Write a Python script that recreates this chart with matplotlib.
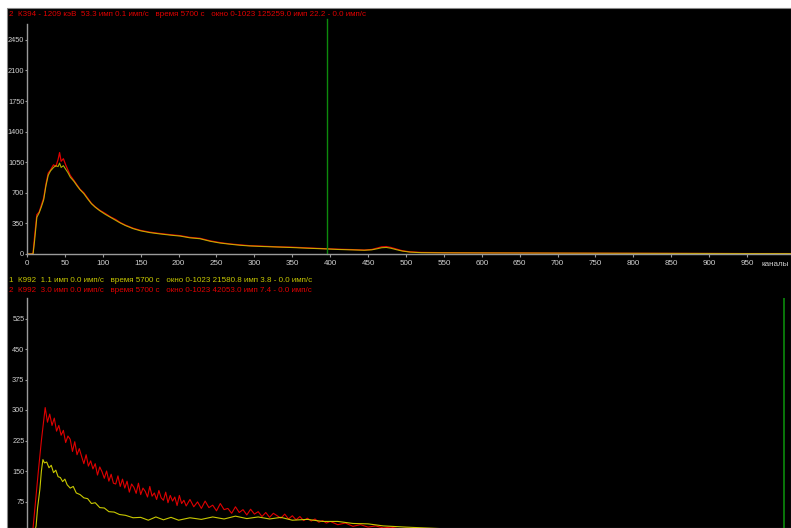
import matplotlib.pyplot as plt
from matplotlib.patches import Rectangle

# ---- данные ----
# верхний спектр: К394
top_ch = [0, 6, 8, 10, 13, 16, 19, 22, 25, 28, 31, 35, 38, 41, 43, 45, 48, 51, 54, 57, 62, 66, 70, 75, 80,
          85, 90, 96, 103, 110, 117, 123, 130, 140, 150, 162, 175, 190, 202, 215, 228, 242, 255, 268, 281,
          294, 310, 330, 350, 370, 390, 410, 430, 445, 455, 462, 468, 474, 480, 488, 495, 505, 520, 550,
          600, 650, 700, 750, 800, 850, 900, 950, 1000, 1023]
top_red = [0, 0, 10, 200, 450, 480, 560, 640, 800, 925, 960, 1020, 1000, 1080, 1160, 1060, 1090, 1020, 960,
           900, 840, 790, 740, 700, 640, 580, 540, 500, 465, 425, 395, 360, 330, 295, 270, 250, 235, 220,
           210, 190, 180, 150, 130, 115, 105, 95, 90, 82, 78, 70, 62, 55, 50, 45, 52, 68, 82, 85, 75, 55,
           38, 25, 18, 15, 13, 12, 10, 9, 8, 7, 6, 5, 5, 4]
top_yel = [0, 0, 0, 150, 420, 470, 540, 620, 780, 900, 950, 990, 1010, 1000, 1040, 990, 1010, 970, 930,
           880, 830, 780, 735, 690, 630, 575, 535, 495, 455, 420, 385, 355, 325, 290, 265, 245, 230, 215,
           205, 185, 175, 145, 125, 112, 100, 92, 86, 80, 74, 66, 60, 52, 47, 43, 48, 60, 72, 75, 66, 48,
           34, 22, 15, 13, 12, 11, 10, 9, 8, 7, 6, 5, 5, 4]

# нижний спектр: К992, серия 2 (красная)
bot_red_ch = ([0, 6, 8, 12, 15, 19, 22] + list(range(24, 211, 3)) + list(range(215, 401, 5))
              + [410, 420, 430, 440, 450, 460, 470, 480, 490, 500, 520, 540, 560, 580, 600,
                 650, 700, 750, 800, 850, 900, 950, 1000, 1023])
bot_red = [0, 0, 10, 90, 150, 225, 275,
           306, 270, 290, 262, 280, 248, 262, 238, 250, 220, 236, 228, 198, 222, 190, 205, 186, 168,
           190, 162, 175, 155, 168, 140, 160, 148, 132, 150, 125, 142, 120, 118, 138, 112, 130, 108,
           125, 98, 118, 110, 95, 120, 92, 108, 100, 86, 112, 88, 96, 80, 102, 84, 78, 98, 72, 90,
           76, 86, 65, 90, 70, 78, 64,
           80, 62, 74, 58, 76, 60, 66, 52, 70, 55, 58, 46, 62, 48, 55, 42, 56, 44, 50, 38, 48, 36, 46,
           40, 34, 44, 32, 40, 30, 38, 28, 34, 27, 32, 24, 28, 22, 26,
           18, 22, 14, 18, 12, 15, 10, 12, 8, 9, 6, 7, 4, 5, 3, 3, 2, 2, 1, 1, 1, 1, 0, 0]

# нижний спектр: К992, серия 1 (жёлтая)
bot_yel_ch = [0, 10, 12, 14, 17, 19, 21, 23, 26, 29, 32, 35, 38, 41, 44, 47, 50, 53, 57, 61, 65, 70, 75,
              80, 85, 90, 96, 102, 108, 115, 122, 130, 140, 150, 160, 170, 180, 190, 200, 215, 230, 245,
              260, 275, 290, 305, 320, 335, 350, 370, 390, 410, 430, 450, 470, 500, 550, 600, 700, 800,
              900, 1000, 1023]
bot_yel = [0, 0, 15, 60, 105, 150, 178, 170, 172, 158, 164, 146, 152, 136, 134, 124, 130, 116, 108, 112,
           96, 92, 84, 82, 70, 72, 60, 59, 50, 49, 43, 41, 35, 36, 29, 37, 30, 36, 29, 35, 31, 37, 32, 39,
           33, 37, 32, 36, 29, 31, 26, 26, 21, 20, 15, 12, 8, 5, 3, 2, 1, 0, 0]

top_xticks = list(range(0, 1000, 50))
top_yticks = [0, 350, 700, 1050, 1400, 1750, 2100, 2450]
bot_yticks = [0, 75, 150, 225, 300, 375, 450, 525]
top_marker = 396
bot_marker = 999

top_title = "2  К394 - 1209 кэВ  53.3 имп 0.1 имп/с   время 5700 с   окно 0-1023 125259.0 имп 22.2 - 0.0 имп/с"
bot_title1 = "1  К992  1.1 имп 0.0 имп/с   время 5700 с   окно 0-1023 21580.8 имп 3.8 - 0.0 имп/с"
bot_title2 = "2  К992  3.0 имп 0.0 имп/с   время 5700 с   окно 0-1023 42053.0 имп 7.4 - 0.0 имп/с"

W, H = 791, 528
RED = '#e00000'
YEL = '#c8c800'
GRN = '#0c8a0c'
FS = 5.8
FS_TICK = 5.3


def fx(px):
    return px / W


def fy(py):
    return 1 - py / H


def style_axes(ax):
    ax.patch.set_alpha(0)
    for s in ['top', 'right']:
        ax.spines[s].set_visible(False)
    for s in ['left', 'bottom']:
        ax.spines[s].set_color('#9a9a9a')
        ax.spines[s].set_linewidth(1.0)
    ax.tick_params(colors='#9a9a9a', labelcolor='#d0d0d0', labelsize=FS_TICK, length=1.6, width=0.8, pad=0.3)
    ax.tick_params(axis='x', labelsize=FS, length=2.5, pad=1.5)


plt.rcParams['font.family'] = ['Liberation Sans', 'DejaVu Sans']
fig = plt.figure(figsize=(W / 100, H / 100), dpi=100, facecolor='white')
fig.patches.append(Rectangle((fx(7), 0), 1 - fx(7), fy(8), transform=fig.transFigure,
                             facecolor='black', edgecolor='#888888', linewidth=0.8, zorder=-10))

# верхний график
x_right = (W - 27) / 0.758
ax1 = fig.add_axes([fx(27), fy(254), 1 - fx(27), fy(24) - fy(254)])
ax1.plot(top_ch, top_red, color=RED, lw=0.9)
ax1.plot(top_ch, top_yel, color=YEL, lw=0.8, alpha=0.85)
ax1.axvline(top_marker, color=GRN, lw=1.0, ymax=1.02, clip_on=False)
ax1.set_xlim(0, x_right)
ax1.set_ylim(0, (254 - 24) / 30.6 * 350)
ax1.set_xticks(top_xticks)
ax1.set_yticks(top_yticks)
style_axes(ax1)

# нижний график
ax2 = fig.add_axes([fx(27), fy(532), 1 - fx(27), fy(298) - fy(532)])
ax2.plot(bot_red_ch, bot_red, color=RED, lw=0.8)
ax2.plot(bot_yel_ch, bot_yel, color=YEL, lw=0.8)
ax2.axvline(bot_marker, color=GRN, lw=1.2)
ax2.set_xlim(0, x_right)
ax2.set_ylim(0, (532 - 298) / 30.5 * 75)
ax2.set_xticks([])
ax2.set_yticks(bot_yticks)
style_axes(ax2)

# подписи
fig.text(fx(9), fy(14), top_title, color=RED, fontsize=FS, va='center', ha='left')
fig.text(fx(9), fy(281), bot_title1, color=YEL, fontsize=FS, va='center', ha='left')
fig.text(fx(9), fy(291), bot_title2, color=RED, fontsize=FS, va='center', ha='left')
fig.text(fx(761), fy(264), "каналы", color='#d0d0d0', fontsize=FS, va='center', ha='left')

fig.savefig('out.png', dpi=100, facecolor='white')
